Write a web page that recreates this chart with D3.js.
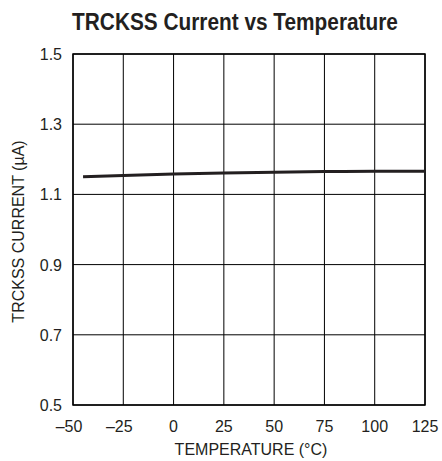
<!DOCTYPE html>
<html>
<head>
<meta charset="utf-8">
<script src="https://cdn.jsdelivr.net/npm/d3@7"></script>
<style>
  body { margin: 0; background: #fff; }
  text { font-family: "Liberation Sans", Arial, sans-serif; fill: #231f20; }
</style>
</head>
<body>
<script>
// data
const temps = [-45, -25, 0, 25, 50, 75, 100, 125];
const current = [1.150, 1.154, 1.158, 1.161, 1.163, 1.165, 1.166, 1.166];
const xTicks = [-50, -25, 0, 25, 50, 75, 100, 125];
const yTicks = [0.5, 0.7, 0.9, 1.1, 1.3, 1.5];

main();

function main() {
  const width = 442;
  const height = 461;
  const left = 73, right = 425, top = 54, bottom = 405;

  const svg = d3.select("body").append("svg")
    .attr("width", width)
    .attr("height", height);

  const x = d3.scaleLinear().domain([-50, 125]).range([left, right]);
  const y = d3.scaleLinear().domain([0.5, 1.5]).range([bottom, top]);

  // title, squeezed to the condensed width of the original
  const title = svg.append("text")
    .attr("text-anchor", "middle")
    .attr("font-size", 24)
    .attr("font-weight", "bold")
    .text("TRCKSS Current vs Temperature");
  const tw = title.node().getComputedTextLength();
  title.attr("transform", `translate(235,30) scale(${326 / tw},1)`);

  // grid
  svg.append("g").selectAll("line")
    .data(xTicks)
    .join("line")
    .attr("x1", d => x(d)).attr("x2", d => x(d))
    .attr("y1", top).attr("y2", bottom)
    .attr("stroke", "#000").attr("stroke-width", 1);

  svg.append("g").selectAll("line")
    .data(yTicks)
    .join("line")
    .attr("x1", left).attr("x2", right)
    .attr("y1", d => y(d)).attr("y2", d => y(d))
    .attr("stroke", "#000").attr("stroke-width", 1);

  svg.append("rect")
    .attr("x", left).attr("y", top)
    .attr("width", right - left).attr("height", bottom - top)
    .attr("fill", "none")
    .attr("stroke", "#000").attr("stroke-width", 1.5);

  // tick labels
  svg.append("g").selectAll("text")
    .data(yTicks)
    .join("text")
    .attr("x", left - 11)
    .attr("y", d => y(d) + 6)
    .attr("text-anchor", "end")
    .attr("font-size", 16)
    .text(d => d.toFixed(1));

  svg.append("g").selectAll("text")
    .data(xTicks)
    .join("text")
    .attr("x", d => x(d) - (d < 0 ? 4 : 0))
    .attr("y", 432)
    .attr("text-anchor", "middle")
    .attr("font-size", 16)
    .text(d => d < 0 ? "\u2013" + Math.abs(d) : d);

  // axis titles
  svg.append("text")
    .attr("x", 251)
    .attr("y", 455)
    .attr("text-anchor", "middle")
    .attr("font-size", 16)
    .text("TEMPERATURE (\u00B0C)");

  svg.append("text")
    .attr("transform", `translate(24,${(top + bottom) / 2 + 2}) rotate(-90)`)
    .attr("text-anchor", "middle")
    .attr("font-size", 16)
    .text("TRCKSS CURRENT (\u00B5A)");

  // curve
  const line = d3.line()
    .x((d, i) => x(temps[i]))
    .y(d => y(d))
    .curve(d3.curveMonotoneX);

  svg.append("path")
    .datum(current)
    .attr("d", line)
    .attr("fill", "none")
    .attr("stroke", "#231f20")
    .attr("stroke-width", 3);
}
</script>
</body>
</html>
